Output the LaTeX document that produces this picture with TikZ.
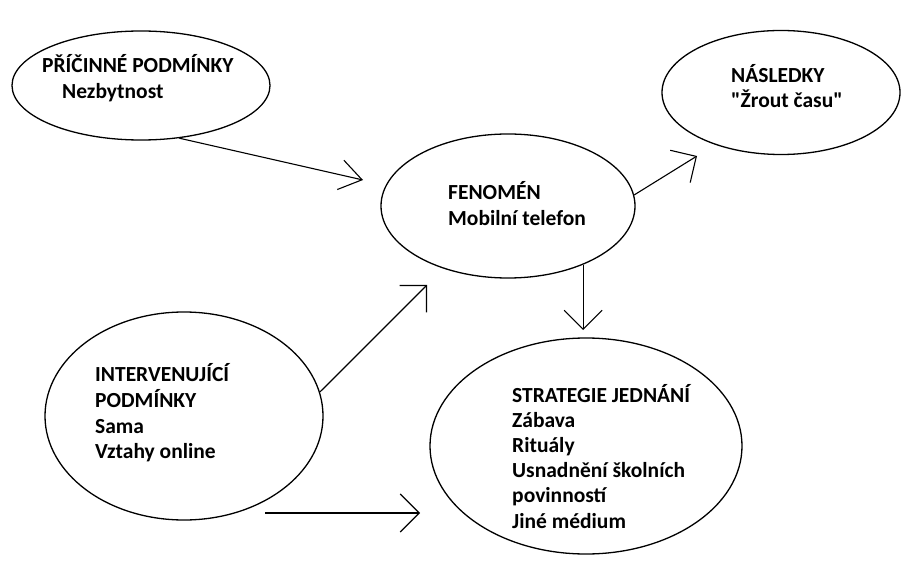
\documentclass[tikz,border=0pt]{standalone}
\usepackage{fontspec}
\setmainfont{Carlito}[Ligatures=TeXOff]
\usetikzlibrary{shapes.geometric,arrows.meta}
\begin{document}
\begin{tikzpicture}[x=1pt,y=-1pt,
 ell/.style={draw, ellipse, line width=1.3pt, inner sep=0pt},
 lbl/.style={anchor=base west, inner sep=0pt, font=\fontsize{21.5}{25}\selectfont\bfseries},
 arr/.style={line width=1.1pt, -{Straight Barb[length=19pt,width=38pt]}},
 arrn/.style={line width=1.1pt, -{Straight Barb[length=22pt,width=30pt]}}]
\useasboundingbox (0,0) rectangle (902,561);
\fill[white] (0,0) rectangle (902,561);
% ellipses
\node[ell, minimum width=258pt, minimum height=109pt] (e1) at (141,85.5) {};
\node[ell, minimum width=238pt, minimum height=124pt] (e2) at (781,92.5) {};
\node[ell, minimum width=254pt, minimum height=144pt] (e3) at (508,206) {};
\node[ell, minimum width=278pt, minimum height=208pt] (e4) at (184,416) {};
\node[ell, minimum width=312pt, minimum height=216pt] (e5) at (586,446) {};
% texts
\node[lbl] (l1a) at (42,73) {PŘÍČINNÉ PODMÍNKY};
\node[lbl] (l1b) at (62,99) {Nezbytnost};
\node[lbl] (l2a) at (731,83) {NÁSLEDKY};
\node[lbl] (l2b) at (731,108) {"Žrout času"};
\node[lbl] (l3a) at (448,200) {FENOMÉN};
\node[lbl] (l3b) at (448,226) {Mobilní telefon};
\node[lbl] (l4a) at (95,381) {INTERVENUJÍCÍ};
\node[lbl] (l4b) at (95,407) {PODMÍNKY};
\node[lbl] (l4c) at (95,433) {Sama};
\node[lbl] (l4d) at (95,458) {Vztahy online};
\node[lbl] (l5a) at (512,402) {STRATEGIE JEDNÁNÍ};
\node[lbl] (l5b) at (512,427) {Zábava};
\node[lbl] (l5c) at (512,452) {Rituály};
\node[lbl] (l5d) at (512,477) {Usnadnění školních};
\node[lbl] (l5e) at (512,502) {povinností};
\node[lbl] (l5f) at (512,528) {Jiné médium};
% connector ends
\coordinate (t1) at (363,180);
\coordinate (t2) at (697,156);
\coordinate (t3) at (583,330);
\coordinate (t4) at (427,285);
\coordinate (s5) at (265,513);
\coordinate (t5) at (420,513);
% arrows
\draw[arrn] (e1.-54) -- (t1);
\draw[arr] (e3.5) -- (t2);
\draw[arr] (e3.-38) -- (e3.-38 |- t3);
\draw[arr] (e4.10) -- (t4);
\draw[arr] (s5) -- (t5);
\end{tikzpicture}
\end{document}
